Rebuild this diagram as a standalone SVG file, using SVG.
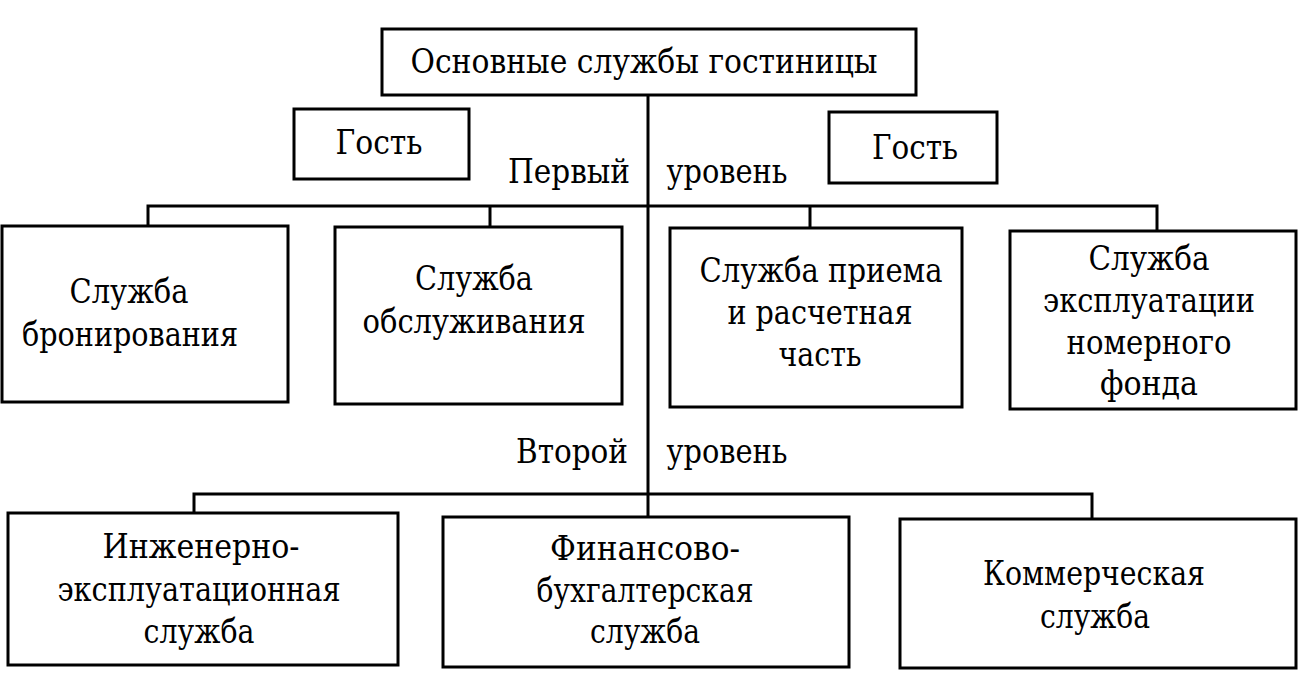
<svg xmlns="http://www.w3.org/2000/svg" width="1302" height="673" viewBox="0 0 1302 673" font-family="DejaVu Serif Condensed, DejaVu Serif, serif" font-size="34">
<style>
.box{fill:#fff;stroke:#000;stroke-width:3}
.ln{fill:none;stroke:#000;stroke-width:3}
text{fill:#000;text-anchor:middle}
</style>
<rect width="1302" height="673" fill="#fff"/>
<g id="connectors">
<path class="ln" d="M648 95 V517"/>
<path class="ln" d="M148 226 V206 H1157 V231"/>
<path class="ln" d="M490 206 V227"/>
<path class="ln" d="M810 206 V228"/>
<path class="ln" d="M194 513 V494 H1092 V519"/>
</g>
<g id="top">
<rect class="box" x="382" y="29" width="534" height="66"/>
<text x="644" y="73" textLength="467" lengthAdjust="spacingAndGlyphs">Основные службы гостиницы</text>
</g>
<g id="guest1">
<rect class="box" x="294" y="109" width="175" height="70"/>
<text x="379" y="154" textLength="87" lengthAdjust="spacingAndGlyphs">Гость</text>
</g>
<g id="guest2">
<rect class="box" x="829" y="112" width="168" height="71"/>
<text x="915" y="159" textLength="86" lengthAdjust="spacingAndGlyphs">Гость</text>
</g>
<g id="level1-label">
<text x="569" y="183" textLength="122" lengthAdjust="spacingAndGlyphs">Первый</text>
<text x="727" y="183" textLength="121" lengthAdjust="spacingAndGlyphs">уровень</text>
</g>
<g id="booking">
<rect class="box" x="2" y="226" width="286" height="176"/>
<text x="129" y="303" textLength="119" lengthAdjust="spacingAndGlyphs">Служба</text>
<text x="130" y="346" textLength="216" lengthAdjust="spacingAndGlyphs">бронирования</text>
</g>
<g id="service">
<rect class="box" x="335" y="227" width="287" height="177"/>
<text x="474" y="290" textLength="118" lengthAdjust="spacingAndGlyphs">Служба</text>
<text x="474" y="333" textLength="223" lengthAdjust="spacingAndGlyphs">обслуживания</text>
</g>
<g id="reception">
<rect class="box" x="670" y="228" width="292" height="179"/>
<text x="821" y="282" textLength="243" lengthAdjust="spacingAndGlyphs">Служба приема</text>
<text x="820" y="324" textLength="185" lengthAdjust="spacingAndGlyphs">и расчетная</text>
<text x="820" y="366" textLength="83" lengthAdjust="spacingAndGlyphs">часть</text>
</g>
<g id="rooms">
<rect class="box" x="1010" y="231" width="286" height="178"/>
<text x="1149" y="270" textLength="121" lengthAdjust="spacingAndGlyphs">Служба</text>
<text x="1149" y="312" textLength="212" lengthAdjust="spacingAndGlyphs">эксплуатации</text>
<text x="1149" y="354" textLength="165" lengthAdjust="spacingAndGlyphs">номерного</text>
<text x="1149" y="395" textLength="98" lengthAdjust="spacingAndGlyphs">фонда</text>
</g>
<g id="level2-label">
<text x="572" y="463" textLength="112" lengthAdjust="spacingAndGlyphs">Второй</text>
<text x="727" y="463" textLength="121" lengthAdjust="spacingAndGlyphs">уровень</text>
</g>
<g id="engineering">
<rect class="box" x="8" y="513" width="390" height="152"/>
<text x="201" y="558" textLength="197" lengthAdjust="spacingAndGlyphs">Инженерно-</text>
<text x="199" y="601" textLength="283" lengthAdjust="spacingAndGlyphs">эксплуатационная</text>
<text x="199" y="643" textLength="111" lengthAdjust="spacingAndGlyphs">служба</text>
</g>
<g id="finance">
<rect class="box" x="443" y="517" width="406" height="150"/>
<text x="645" y="560" textLength="190" lengthAdjust="spacingAndGlyphs">Финансово-</text>
<text x="645" y="602" textLength="217" lengthAdjust="spacingAndGlyphs">бухгалтерская</text>
<text x="645" y="643" textLength="110" lengthAdjust="spacingAndGlyphs">служба</text>
</g>
<g id="commercial">
<rect class="box" x="900" y="519" width="396" height="149"/>
<text x="1094" y="585" textLength="222" lengthAdjust="spacingAndGlyphs">Коммерческая</text>
<text x="1095" y="628" textLength="110" lengthAdjust="spacingAndGlyphs">служба</text>
</g>
</svg>
